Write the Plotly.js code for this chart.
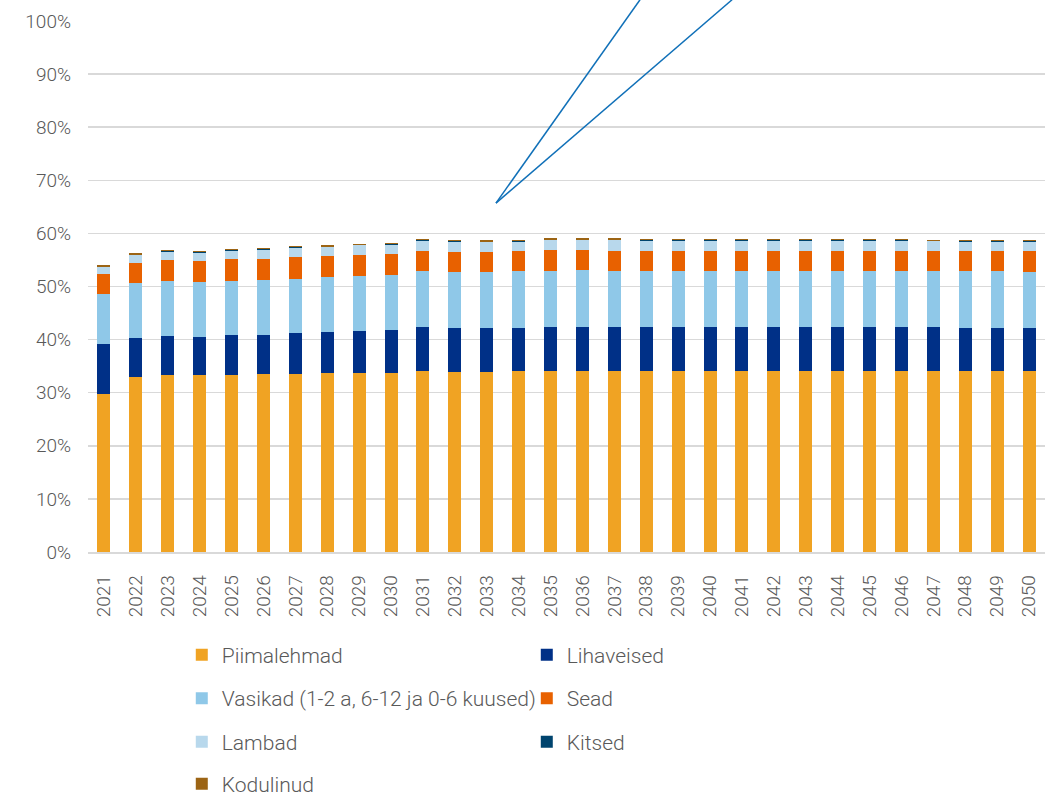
<!DOCTYPE html>
<html>
<head>
<meta charset="utf-8">
<script src="https://cdn.plot.ly/plotly-3.0.1.min.js"></script>
<style>
  html, body { margin: 0; padding: 0; background: #ffffff; }
  #chart { width: 1056px; height: 797px; }
</style>
</head>
<body>
<div id="chart"></div>
<script>
// Years (categories)
const years = ['2021','2022','2023','2024','2025','2026','2027','2028','2029','2030',
               '2031','2032','2033','2034','2035','2036','2037','2038','2039','2040',
               '2041','2042','2043','2044','2045','2046','2047','2048','2049','2050'];

// Series values (share, %)
const piimalehmad = [29.8,33.0,33.3,33.3,33.35,33.45,33.6,33.65,33.7,33.7,
                     34.1,33.95,33.9,34.0,34.15,34.15,34.15,34.15,34.15,34.15,
                     34.15,34.15,34.15,34.15,34.15,34.15,34.15,34.15,34.15,34.1];
const lihaveised  = [9.4,7.3,7.4,7.2,7.55,7.45,7.6,7.75,7.9,8.05,
                     8.3,8.25,8.2,8.2,8.25,8.25,8.25,8.2,8.25,8.25,
                     8.25,8.25,8.25,8.25,8.25,8.25,8.25,8.05,8.05,8.1];
const vasikad     = [9.4,10.3,10.3,10.4,10.2,10.3,10.3,10.4,10.4,10.45,
                     10.6,10.6,10.6,10.65,10.6,10.65,10.6,10.65,10.6,10.5,
                     10.5,10.5,10.5,10.5,10.5,10.5,10.5,10.7,10.7,10.6];
const sead        = [3.8,3.9,3.9,3.9,4.0,4.05,4.05,3.9,3.9,3.85,
                     3.75,3.75,3.85,3.75,3.9,3.85,3.75,3.75,3.75,3.85,
                     3.85,3.85,3.85,3.85,3.85,3.85,3.85,3.85,3.85,3.9];
const lambad      = [1.2,1.4,1.6,1.6,1.65,1.7,1.7,1.7,1.85,1.85,
                     1.85,1.85,1.75,1.8,1.85,1.85,2.0,1.85,1.85,1.85,
                     1.85,1.85,1.85,1.85,1.85,1.85,1.75,1.7,1.7,1.75];
const kitsed      = [0.1,0.1,0.1,0.1,0.1,0.1,0.1,0.1,0.1,0.1,
                     0.1,0.1,0.1,0.1,0.1,0.1,0.1,0.1,0.1,0.1,
                     0.1,0.1,0.1,0.1,0.1,0.1,0.1,0.1,0.1,0.1];
const kodulinud   = [0.35,0.35,0.25,0.25,0.2,0.2,0.2,0.3,0.15,0.2,
                     0.3,0.25,0.3,0.3,0.2,0.2,0.2,0.25,0.25,0.2,
                     0.2,0.2,0.25,0.2,0.2,0.2,0.25,0.25,0.25,0.25];

const seriesNames = ['Piimalehmad','Lihaveised','Vasikad (1-2 a, 6-12 ja 0-6 kuused)','Sead','Lambad','Kitsed','Kodulinud'];
const seriesValues = [piimalehmad, lihaveised, vasikad, sead, lambad, kitsed, kodulinud];
const seriesColors = ['#F0A323','#003087','#8FC8E8','#E86100','#B8D8EC','#00446E','#9C6414'];
const seriesLegend = ['legend','legend','legend2','legend2','legend3','legend3','legend4'];

const yTicks = [0,10,20,30,40,50,60,70,80,90,100];

const FONT = 'Roboto, "Noto Sans", sans-serif';
const TEXT = '#595959';

const traces = seriesNames.map((n, i) => ({
  type: 'bar',
  name: n,
  x: years,
  y: seriesValues[i],
  marker: { color: seriesColors[i], line: { width: 0 } },
  legend: seriesLegend[i],
  hoverinfo: 'x+y+name'
}));

function legendRow(y) {
  return {
    orientation: 'h', x: 0.098, xanchor: 'left', y: y, yanchor: 'middle',
    entrywidth: 300, entrywidthmode: 'pixels',
    font: { family: FONT, size: 21, color: TEXT, weight: 300 },
    bgcolor: 'rgba(0,0,0,0)', borderwidth: 0, traceorder: 'normal'
  };
}

const layout = {
  width: 1056, height: 797,
  margin: { l: 88, r: 11, t: 21, b: 245, autoexpand: false },
  paper_bgcolor: '#ffffff', plot_bgcolor: '#ffffff',
  barmode: 'stack',
  bargap: 0.59,
  showlegend: true,
  font: { family: FONT, color: TEXT, size: 19, weight: 300 },
  xaxis: {
    type: 'category',
    tickangle: -90,
    tickfont: { family: FONT, size: 19, color: TEXT, weight: 300 },
    ticklabelstandoff: 14,
    showgrid: false,
    showline: true, linecolor: '#D9D9D9', linewidth: 1.5,
    ticks: '', zeroline: false, fixedrange: true
  },
  yaxis: {
    range: [0, 100],
    tickvals: yTicks,
    ticktext: yTicks.map(v => v + '%'),
    tickfont: { family: FONT, size: 19, color: TEXT, weight: 300 },
    ticklabelstandoff: 16,
    showgrid: true, gridcolor: '#D9D9D9', gridwidth: 1.5,
    zeroline: false, showline: false, ticks: '', fixedrange: true
  },
  legend: legendRow(-0.194),
  legend2: legendRow(-0.276),
  legend3: legendRow(-0.358),
  legend4: legendRow(-0.437),
  shapes: [
    { type: 'line', xref: 'paper', yref: 'paper', x0: 0.4263, y0: 0.657, x1: 0.5768, y1: 1.04,
      line: { color: '#1070B8', width: 1.5 } },
    { type: 'line', xref: 'paper', yref: 'paper', x0: 0.4263, y0: 0.657, x1: 0.6730, y1: 1.04,
      line: { color: '#1070B8', width: 1.5 } }
  ]
};

Plotly.newPlot('chart', traces, layout, { displayModeBar: false, staticPlot: true });
</script>
</body>
</html>
